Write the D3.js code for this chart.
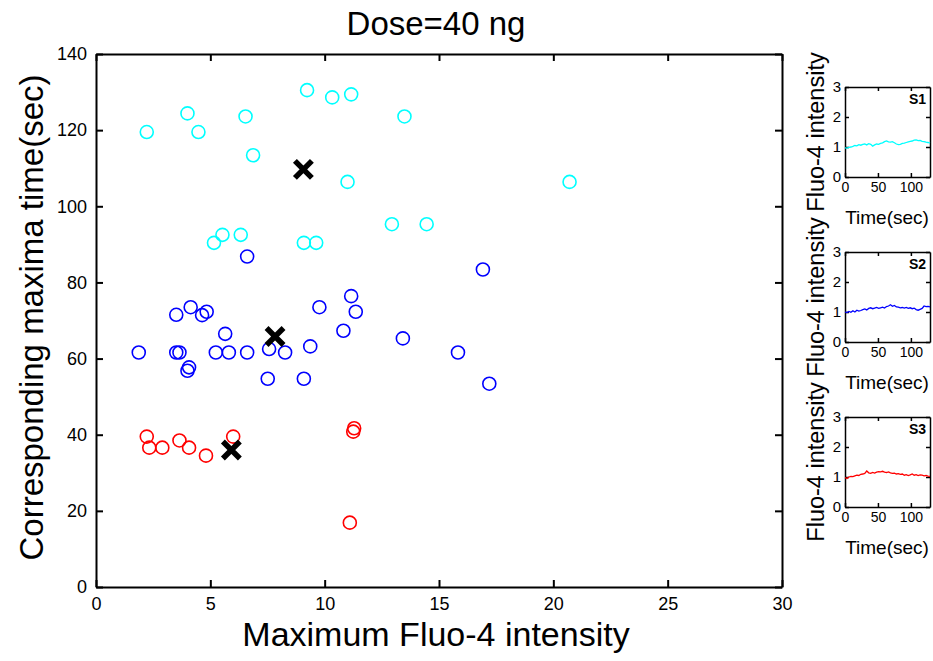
<!DOCTYPE html>
<html>
<head>
<meta charset="utf-8">
<script src="https://cdn.jsdelivr.net/npm/d3@7"></script>
<style>
  body { margin: 0; background: #fff; }
  text { font-family: "Liberation Sans", Arial, Helvetica, sans-serif; fill: #000; }
  .axis path, .axis line { stroke: #000; stroke-width: 2; }
  .sub path, .sub line { stroke: #000; stroke-width: 1.5; }
</style>
</head>
<body>
<script>
// values
var cyanX = [2.22, 4.0, 4.48, 6.54, 6.87, 9.23, 10.33, 11.16, 13.49, 11.0, 5.53, 5.16, 6.33, 9.09, 9.63, 12.94, 14.46, 20.71];
var cyanY = [119.5, 124.4, 119.5, 123.6, 113.4, 130.5, 128.6, 129.4, 123.6, 106.4, 92.5, 90.4, 92.5, 90.4, 90.4, 95.3, 95.3, 106.4];
var blueX = [6.61, 1.87, 3.51, 3.65, 3.51, 4.14, 4.64, 4.84, 5.65, 5.24, 5.81, 6.61, 4.0, 4.07, 7.57, 8.27, 7.51, 9.09, 9.37, 9.77, 10.82, 11.16, 11.36, 13.42, 15.83, 16.92, 17.2];
var blueY = [86.8, 61.6, 61.6, 61.6, 71.5, 73.5, 71.4, 72.3, 66.5, 61.6, 61.6, 61.6, 56.8, 57.7, 62.5, 61.6, 54.7, 54.7, 63.2, 73.5, 67.3, 76.4, 72.3, 65.3, 61.6, 83.4, 53.4];
var redX = [2.22, 2.33, 2.9, 3.65, 4.07, 4.81, 6.0, 11.25, 11.29, 11.1];
var redY = [39.5, 36.6, 36.6, 38.5, 36.6, 34.5, 39.5, 40.8, 41.7, 16.9];
var meanX = [9.07, 7.83, 5.92];
var meanY = [109.7, 65.8, 36.0];

var xTicks = [0, 5, 10, 15, 20, 25, 30];
var yTicks = [0, 20, 40, 60, 80, 100, 120, 140];

// traces for the three small panels
var traceTime = [0, 3, 6, 9, 12, 15, 18, 21, 24, 27, 30, 33, 36, 39, 42, 45, 48, 51, 54, 57, 60, 63, 66, 69, 72, 75, 78, 81, 84, 87, 90, 93, 96, 99, 102, 105, 108, 111, 114, 117, 120, 123, 126, 129];
var s1 = [0.97, 0.96, 0.99, 1.0, 1.02, 1.05, 1.04, 1.08, 1.06, 1.09, 1.1, 1.07, 1.11, 1.09, 1.03, 1.07, 1.1, 1.09, 1.12, 1.14, 1.18, 1.2, 1.17, 1.16, 1.18, 1.14, 1.1, 1.08, 1.09, 1.12, 1.13, 1.15, 1.17, 1.19, 1.2, 1.23, 1.24, 1.21, 1.22, 1.19, 1.18, 1.16, 1.15, 1.13];
var s2 = [1.0, 0.98, 1.02, 0.99, 1.04, 1.0, 1.06, 1.03, 1.05, 1.08, 1.1, 1.07, 1.12, 1.14, 1.11, 1.13, 1.15, 1.12, 1.14, 1.16, 1.13, 1.18, 1.2, 1.24, 1.19, 1.22, 1.17, 1.16, 1.14, 1.15, 1.13, 1.15, 1.12, 1.14, 1.11, 1.13, 1.08, 1.06, 1.09, 1.12, 1.2, 1.18, 1.19, 1.17];
var s3 = [0.98, 0.95, 1.0, 1.02, 1.01, 1.04, 1.06, 1.05, 1.09, 1.1, 1.12, 1.2, 1.14, 1.12, 1.15, 1.13, 1.16, 1.18, 1.17, 1.19, 1.16, 1.15, 1.17, 1.14, 1.12, 1.13, 1.1, 1.11, 1.09, 1.1, 1.06, 1.08, 1.05, 1.07, 1.1, 1.06, 1.08, 1.05, 1.07, 1.06, 1.04, 1.05, 1.03, 1.02];
var subNames = ["S1", "S2", "S3"];
var subColors = ["#00ffff", "#0000ff", "#ff0000"];
var subTimeTicks = [0, 50, 100];
var subYTicks = [0, 1, 2, 3];

var width = 933, height = 661;
var plot = { left: 96, right: 782, top: 54, bottom: 587 };

var svg = d3.select("body").append("svg")
    .attr("width", width)
    .attr("height", height);

var xScale = d3.scaleLinear().domain([0, 30]).range([plot.left, plot.right]);
var yScale = d3.scaleLinear().domain([0, 140]).range([plot.bottom, plot.top]);

// main box with inward ticks
svg.append("g").attr("class", "axis")
    .attr("transform", "translate(0," + plot.bottom + ")")
    .call(d3.axisBottom(xScale).tickValues(xTicks).tickSizeInner(-7).tickSizeOuter(0).tickPadding(10))
    .call(g => g.selectAll("text").attr("font-size", 18).attr("font-family", null));
svg.append("g").attr("class", "axis")
    .attr("transform", "translate(0," + plot.top + ")")
    .call(d3.axisTop(xScale).tickValues(xTicks).tickSizeInner(-7).tickSizeOuter(0).tickFormat(""));
svg.append("g").attr("class", "axis")
    .attr("transform", "translate(" + plot.left + ",0)")
    .call(d3.axisLeft(yScale).tickValues(yTicks).tickSizeInner(-7).tickSizeOuter(0).tickPadding(9))
    .call(g => g.selectAll("text").attr("font-size", 18).attr("font-family", null));
svg.append("g").attr("class", "axis")
    .attr("transform", "translate(" + plot.right + ",0)")
    .call(d3.axisRight(yScale).tickValues(yTicks).tickSizeInner(-7).tickSizeOuter(0).tickFormat(""));

svg.append("text")
    .attr("x", 436).attr("y", 35)
    .attr("text-anchor", "middle")
    .attr("font-size", 33)
    .text("Dose=40 ng");

svg.append("text")
    .attr("x", 436).attr("y", 646)
    .attr("text-anchor", "middle")
    .attr("font-size", 34)
    .text("Maximum Fluo-4 intensity");

svg.append("text")
    .attr("transform", "translate(43," + ((plot.top + plot.bottom) / 2 - 3) + ") rotate(-90)")
    .attr("text-anchor", "middle")
    .attr("font-size", 33)
    .text("Corresponding maxima time(sec)");

function drawCircles(xs, ys, color) {
    svg.append("g").selectAll("circle")
        .data(xs.map((x, i) => [x, ys[i]]))
        .enter().append("circle")
        .attr("cx", d => xScale(d[0]))
        .attr("cy", d => yScale(d[1]))
        .attr("r", 6.5)
        .attr("fill", "none")
        .attr("stroke", color)
        .attr("stroke-width", 1.6);
}
drawCircles(cyanX, cyanY, "#00ffff");
drawCircles(blueX, blueY, "#0000ff");
drawCircles(redX, redY, "#ff0000");

svg.append("g").selectAll("path")
    .data(meanX.map((x, i) => [x, meanY[i]]))
    .enter().append("path")
    .attr("transform", d => "translate(" + xScale(d[0]) + "," + yScale(d[1]) + ")")
    .attr("d", d3.symbol().type(d3.symbolX).size(190))
    .attr("fill", "none")
    .attr("stroke", "#000")
    .attr("stroke-width", 5.5);

// small panels on the right
var subTops = [87, 252, 417];
var subH = 90;
var subSeries = [s1, s2, s3];
var sx = d3.scaleLinear().domain([0, 129]).range([845, 930]);

subSeries.forEach(function (vals, k) {
    var top = subTops[k], bottom = top + subH;
    var sy = d3.scaleLinear().domain([0, 3]).range([bottom, top]);

    svg.append("g").attr("class", "sub")
        .attr("transform", "translate(0," + bottom + ")")
        .call(d3.axisBottom(sx).tickValues(subTimeTicks).tickSizeInner(-4).tickSizeOuter(0).tickPadding(5).tickFormat(d3.format("d")))
        .call(g => g.selectAll("text").attr("font-size", 14).attr("font-family", null));
    svg.append("g").attr("class", "sub")
        .attr("transform", "translate(0," + top + ")")
        .call(d3.axisTop(sx).tickValues(subTimeTicks).tickSizeInner(-4).tickSizeOuter(0).tickFormat(""));
    svg.append("g").attr("class", "sub")
        .attr("transform", "translate(845,0)")
        .call(d3.axisLeft(sy).tickValues(subYTicks).tickSizeInner(-4).tickSizeOuter(0).tickPadding(4).tickFormat(d3.format("d")))
        .call(g => g.selectAll("text").attr("font-size", 15).attr("font-family", null));
    svg.append("g").attr("class", "sub")
        .attr("transform", "translate(930,0)")
        .call(d3.axisRight(sy).tickValues(subYTicks).tickSizeInner(-4).tickSizeOuter(0).tickFormat(""));

    svg.append("path")
        .datum(vals)
        .attr("fill", "none")
        .attr("stroke", subColors[k])
        .attr("stroke-width", 1.3)
        .attr("d", d3.line().x((d, i) => sx(traceTime[i])).y(d => sy(d)));

    svg.append("text")
        .attr("x", 926).attr("y", top + 17)
        .attr("text-anchor", "end")
        .attr("font-size", 14)
        .attr("font-weight", "bold")
        .text(subNames[k]);

    svg.append("text")
        .attr("x", 887).attr("y", bottom + 47)
        .attr("text-anchor", "middle")
        .attr("font-size", 19)
        .text("Time(sec)");

    svg.append("text")
        .attr("transform", "translate(824," + ((top + bottom) / 2) + ") rotate(-90)")
        .attr("text-anchor", "middle")
        .attr("font-size", 23.5)
        .text("Fluo-4 intensity");
});
</script>
</body>
</html>
